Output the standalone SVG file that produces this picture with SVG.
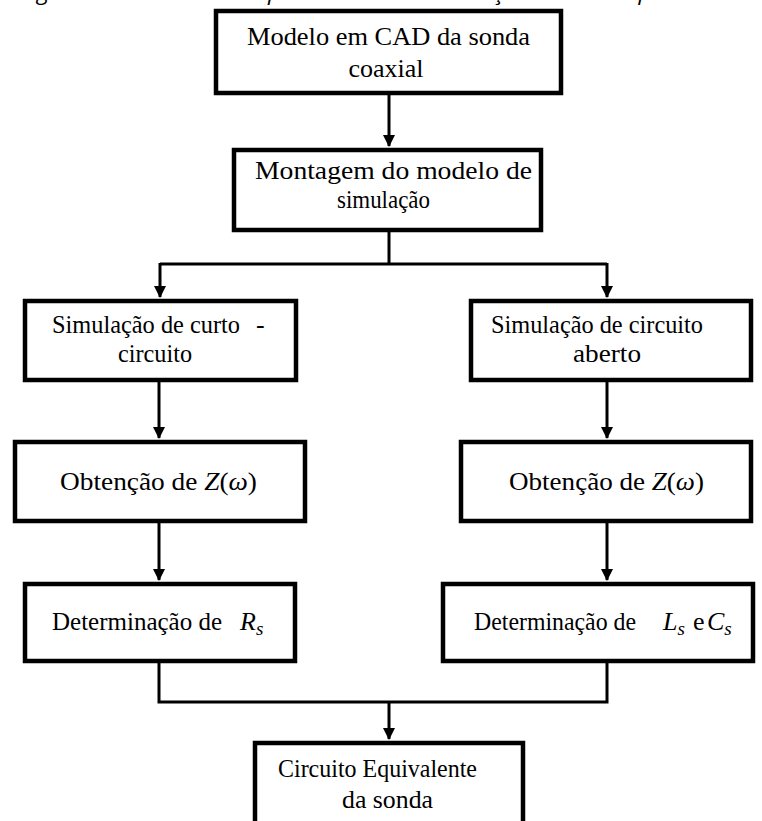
<svg xmlns="http://www.w3.org/2000/svg" width="762" height="821" viewBox="0 0 762 821">
<style>
.box{fill:#fff;stroke:#000;stroke-width:4.5}
.t{font-family:"Liberation Serif","Times New Roman",serif;font-size:26px;fill:#000}
.m{font-style:italic}
.c{fill:none;stroke:#000;stroke-width:3}
.cap{font-family:"Open Sans","Liberation Sans",sans-serif;font-style:italic;font-size:22px;fill:#000}
</style>
<defs>
<marker id="ah" markerWidth="12" markerHeight="12" refX="11" refY="6" orient="auto" markerUnits="userSpaceOnUse">
<path d="M0,0 L12,6 L0,12 Z" fill="#000"/>
</marker>
</defs>
<rect width="762" height="821" fill="#fff"/>
<text class="cap" x="20" y="0" textLength="740" lengthAdjust="spacingAndGlyphs">Figura – Procedimentos para modelo e simulação da sonda por método</text>
<g id="connectors">
<line class="c" x1="389" y1="95" x2="389" y2="146" marker-end="url(#ah)"/>
<polyline class="c" points="389,232 389,264"/>
<polyline class="c" points="160,264 607,264"/>
<line class="c" x1="160" y1="263" x2="160" y2="297" marker-end="url(#ah)"/>
<line class="c" x1="607" y1="263" x2="607" y2="297" marker-end="url(#ah)"/>
<line class="c" x1="159" y1="382" x2="159" y2="438" marker-end="url(#ah)"/>
<line class="c" x1="607" y1="382" x2="607" y2="438" marker-end="url(#ah)"/>
<line class="c" x1="159" y1="523" x2="159" y2="580" marker-end="url(#ah)"/>
<line class="c" x1="607" y1="523" x2="607" y2="580" marker-end="url(#ah)"/>
<polyline class="c" points="159,663 159,702 607,702 607,663"/>
<line class="c" x1="389" y1="702" x2="389" y2="739" marker-end="url(#ah)"/>
</g>
<g id="n1">
<rect class="box" x="216" y="11" width="345" height="82"/>
<text class="t" x="247" y="45" textLength="283" lengthAdjust="spacingAndGlyphs">Modelo em CAD da sonda</text>
<text class="t" x="386" y="77" text-anchor="middle">coaxial</text>
</g>
<g id="n2">
<rect class="box" x="234" y="150" width="307" height="80"/>
<text class="t" x="255" y="179" textLength="277" lengthAdjust="spacingAndGlyphs">Montagem do modelo de</text>
<text class="t" x="337" y="208" textLength="93" lengthAdjust="spacingAndGlyphs">simulação</text>
</g>
<g id="n3">
<rect class="box" x="25" y="301" width="271" height="79"/>
<text class="t" x="52" y="333" textLength="188" lengthAdjust="spacingAndGlyphs">Simulação de curto</text>
<text class="t" x="256" y="333">-</text>
<text class="t" x="118" y="362" textLength="74" lengthAdjust="spacingAndGlyphs">circuito</text>
</g>
<g id="n4">
<rect class="box" x="471" y="301" width="280" height="79"/>
<text class="t" x="491" y="333" textLength="212" lengthAdjust="spacingAndGlyphs">Simulação de circuito</text>
<text class="t" x="573" y="362" textLength="68" lengthAdjust="spacingAndGlyphs">aberto</text>
</g>
<g id="n5">
<rect class="box" x="15" y="442" width="290" height="79"/>
<text class="t" x="60" y="490" textLength="197" lengthAdjust="spacingAndGlyphs">Obtenção de <tspan class="m">Z</tspan>(<tspan class="m">ω</tspan>)</text>
</g>
<g id="n6">
<rect class="box" x="461" y="442" width="290" height="79"/>
<text class="t" x="509" y="490" textLength="195" lengthAdjust="spacingAndGlyphs">Obtenção de <tspan class="m">Z</tspan>(<tspan class="m">ω</tspan>)</text>
</g>
<g id="n7">
<rect class="box" x="25" y="584" width="270" height="77"/>
<text class="t" x="52" y="630" textLength="170" lengthAdjust="spacingAndGlyphs">Determinação de</text>
<text class="t m" x="240" y="630">R<tspan font-size="19" dy="5">s</tspan></text>
</g>
<g id="n8">
<rect class="box" x="443" y="584" width="310" height="77"/>
<text class="t" x="474" y="630" textLength="162" lengthAdjust="spacingAndGlyphs">Determinação de</text>
<text class="t m" x="663" y="630">L<tspan font-size="19" dy="5">s</tspan></text>
<text class="t" x="693" y="630">e</text>
<text class="t m" x="707" y="630">C<tspan font-size="19" dy="5">s</tspan></text>
</g>
<g id="n9">
<rect class="box" x="255" y="743" width="268" height="90"/>
<text class="t" x="278" y="777" textLength="199" lengthAdjust="spacingAndGlyphs">Circuito Equivalente</text>
<text class="t" x="342" y="808" textLength="91" lengthAdjust="spacingAndGlyphs">da sonda</text>
</g>
</svg>
